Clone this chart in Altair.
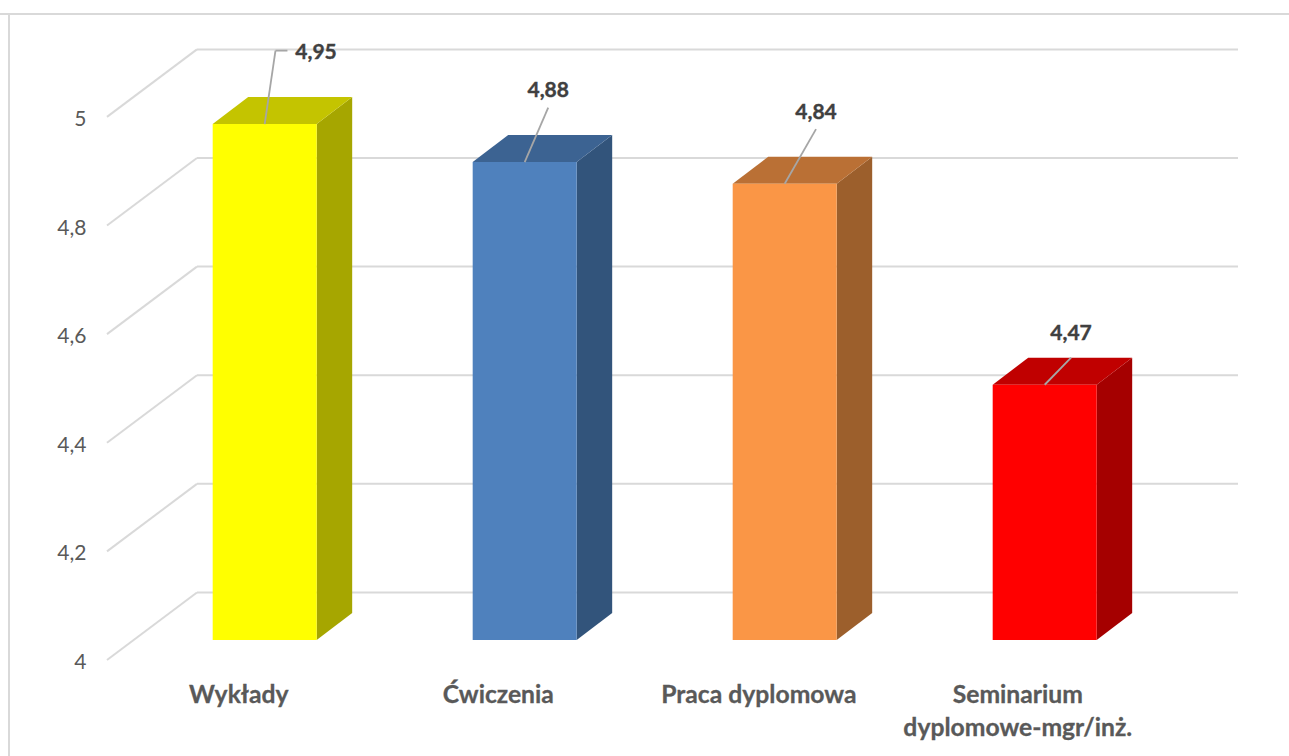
import altair as alt
import pandas as pd

# Series
categories = ["Wykłady", "Ćwiczenia", "Praca dyplomowa", "Seminarium\ndyplomowe-mgr/inż."]
values = [4.95, 4.88, 4.84, 4.47]
value_labels = ["4,95", "4,88", "4,84", "4,47"]
y_ticks = [4, 4.2, 4.4, 4.6, 4.8, 5]

# Face shades per column: front, top, side
front_colors = ["#FFFF00", "#4F81BD", "#FA9646", "#FF0000"]
top_colors = ["#C4C400", "#3C6392", "#BA7035", "#C00000"]
side_colors = ["#A6A600", "#32547B", "#9C5F2C", "#A50000"]

# Oblique projection, in axis units (one x unit is one category slot)
WALL_DX = 0.346
WALL_DY = 0.1243
BAR_LEFT = 0.4065
BAR_WIDTH = 0.4
BAR_DX = 0.1365
BAR_DY = 0.0497
BAR_LIFT = 0.0368

# Callout label centres and the free ends of their leader lines
label_x = [0.804, 1.697, 2.727, 3.708]
label_y = [5.1195, 5.0494, 5.009, 4.6023]
leader_x = [0.648, 1.697, 2.727, 3.708]
leader_y = [5.122, 5.0172, 4.9775, 4.5569]
elbow_end_x = [0.694, None, None, None]

category_x = [0.507, 1.505, 2.507, 3.503]
category_y = [3.958, 3.958, 3.958, 3.958]

fronts, sides, tops, leaders = [], [], [], []
for i, v in enumerate(values):
    left = i + BAR_LEFT
    right = left + BAR_WIDTH
    floor = 4 + BAR_LIFT
    roof = v + BAR_LIFT
    fronts.append(dict(x=left, x2=right, y=floor, y2=roof, c=front_colors[i]))
    sides += [
        dict(bar=i, x=right, y=floor, y2=roof, c=side_colors[i]),
        dict(bar=i, x=right + BAR_DX, y=floor + BAR_DY, y2=roof + BAR_DY, c=side_colors[i]),
    ]
    tops += [
        dict(bar=i, x=left, y=roof, y2=roof, c=top_colors[i]),
        dict(bar=i, x=left + BAR_DX, y=roof, y2=roof + BAR_DY, c=top_colors[i]),
        dict(bar=i, x=right, y=roof, y2=roof + BAR_DY, c=top_colors[i]),
        dict(bar=i, x=right + BAR_DX, y=roof + BAR_DY, y2=roof + BAR_DY, c=top_colors[i]),
    ]
    centre = left + BAR_WIDTH / 2
    leaders.append(dict(x=centre, x2=leader_x[i], y=roof, y2=leader_y[i]))
    if elbow_end_x[i] is not None:
        leaders.append(dict(x=leader_x[i], x2=elbow_end_x[i], y=leader_y[i], y2=leader_y[i]))

grid = pd.DataFrame({"v": y_ticks})
grid["back"] = grid["v"] + WALL_DY
grid["x0"] = 0.0
grid["x1"] = WALL_DX
grid["x2"] = 4.35

GRID_COLOR = "#D9D9D9"
FONT = "Lato"

x_scale = alt.Scale(domain=[0, 4.35], nice=False, zero=False)
y_scale = alt.Scale(domain=[4, 5.125], nice=False, zero=False)
y_axis = alt.Axis(
    values=y_ticks,
    domain=False,
    ticks=False,
    grid=False,
    title=None,
    labelExpr="replace(format(datum.value, '.1~f'), '.', ',')",
    labelPadding=21,
    labelOffset=2.5,
    labelFont=FONT,
    labelFontSize=21,
    labelColor="#595959",
)
X = alt.X("x:Q", scale=x_scale, axis=None)
Y = alt.Y("y:Q", scale=y_scale, axis=y_axis, stack=None)
COLOR = alt.Color("c:N", scale=None, legend=None)

# Frame: only the top and left edges are drawn
frame_top = alt.Chart(pd.DataFrame({"k": [0]})).mark_rule(color=GRID_COLOR, strokeWidth=2).encode(
    x=alt.value(-107), x2=alt.value(1182), y=alt.value(-35)
)
frame_left = alt.Chart(pd.DataFrame({"k": [0]})).mark_rule(color=GRID_COLOR, strokeWidth=2).encode(
    x=alt.value(-98), y=alt.value(-35), y2=alt.value(707)
)

wall_lines = alt.Chart(grid).mark_rule(color=GRID_COLOR, strokeWidth=2).encode(
    x=alt.X("x0:Q", scale=x_scale, axis=None),
    x2="x1:Q",
    y=alt.Y("v:Q", scale=y_scale, axis=y_axis),
    y2="back:Q",
)
back_lines = alt.Chart(grid).mark_rule(color=GRID_COLOR, strokeWidth=2).encode(
    x=alt.X("x1:Q", scale=x_scale, axis=None),
    x2="x2:Q",
    y=alt.Y("back:Q", scale=y_scale, axis=y_axis),
)

front_faces = alt.Chart(pd.DataFrame(fronts)).mark_rect().encode(x=X, x2="x2:Q", y=Y, y2="y2:Q", color=COLOR)
side_faces = alt.Chart(pd.DataFrame(sides)).mark_area(interpolate="linear").encode(
    x=X, y=Y, y2="y2:Q", color=COLOR, detail="bar:N"
)
top_faces = alt.Chart(pd.DataFrame(tops)).mark_area(interpolate="linear").encode(
    x=X, y=Y, y2="y2:Q", color=COLOR, detail="bar:N"
)

leader_lines = alt.Chart(pd.DataFrame(leaders)).mark_rule(color="#A6A6A6", strokeWidth=1.8).encode(
    x=X, x2="x2:Q", y=Y, y2="y2:Q"
)

callouts = alt.Chart(pd.DataFrame({"x": label_x, "y": label_y, "t": value_labels})).mark_text(
    font=FONT, fontSize=21, fontWeight="bold", color="#404040", stroke="#404040", strokeWidth=0.4,
    align="center", baseline="middle", dy=1
).encode(x=X, y=Y, text="t:N")

category_labels = alt.Chart(pd.DataFrame({"x": category_x, "y": category_y, "t": categories})).mark_text(
    font=FONT, fontSize=24.7, fontWeight="bold", color="#595959", stroke="#595959", strokeWidth=0.3,
    align="center", baseline="top", lineBreak="\n", lineHeight=33
).encode(x=X, y=Y, text="t:N")

chart = (
    alt.layer(
        frame_top, frame_left, wall_lines, back_lines,
        side_faces, top_faces, front_faces, leader_lines, callouts, category_labels,
    )
    .resolve_scale(x="shared", y="shared")
    .properties(
        width=1131,
        height=611,
        padding={"left": 107, "top": 49, "right": 51, "bottom": 96},
        autosize=alt.AutoSizeParams(type="none"),
        background="#FFFFFF",
    )
    .configure_view(stroke=None)
)

chart.save("out.html", embed_options={"renderer": "svg", "actions": False})
